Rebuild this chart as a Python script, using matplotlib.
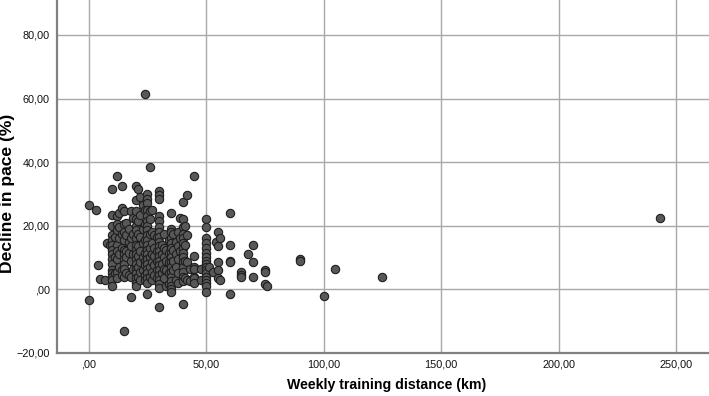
import matplotlib
matplotlib.use("Agg")
import matplotlib.pyplot as plt

plt.rcParams['font.family'] = ['Liberation Sans', 'DejaVu Sans']

# (distance km, list of decline % values), one column per distance
columns = [
    (0, [26.5, -3.5]),
    (3, [25.0]),
    (4, [7.5]),
    (5, [3.2]),
    (7, [2.8]),
    (8, [14.5]),
    (9, [14.0]),
    (10, [31.5, 23.5, 20.0, 17.0, 15.5, 14.0, 12.5, 11.0, 9.5, 8.0, 6.0, 5.0, 4.0, 3.0, 1.0]),
    (11, [16.5, 10.0, 5.0]),
    (12, [35.5, 23.0, 20.5, 18.5, 14.0, 12.0, 9.5, 5.5, 3.5]),
    (13, [24.0, 19.5, 16.0, 11.0, 7.0]),
    (14, [32.5, 25.5, 17.5, 13.0, 6.0, 4.5]),
    (15, [24.5, 20.5, 18.0, 15.5, 12.5, 11.0, 9.5, 8.0, 6.5, 4.0, -13.0]),
    (16, [21.0, 17.0, 12.0, 10.0, 5.0]),
    (17, [19.0, 15.0, 11.5, 4.5]),
    (18, [24.5, 16.0, 13.5, 9.0, 4.0, -2.5]),
    (19, [22.5, 17.5, 11.0, 6.5]),
    (20, [32.5, 28.0, 24.5, 22.0, 20.0, 18.5, 16.0, 14.0, 12.5, 11.0, 9.5, 8.0, 6.5, 5.0, 3.5, 2.0, 1.0]),
    (21, [31.5, 21.5, 17.5, 13.5, 10.5, 7.0, 4.0]),
    (22, [29.0, 23.5, 16.5, 12.0, 8.5, 5.5, 3.0]),
    (23, [26.5, 19.0, 14.5, 10.0, 6.0]),
    (24, [61.5, 25.0, 20.5, 15.5, 11.5, 9.0, 7.5, 4.5, 3.0]),
    (25, [30.0, 28.5, 27.0, 25.0, 23.0, 21.5, 20.0, 18.5, 17.0, 15.5, 14.0, 12.5, 11.0, 9.5, 8.0, 6.5, 5.0, 3.5, 2.0, -1.5]),
    (26, [38.5, 24.5, 22.0, 17.5, 13.0, 10.0, 7.0, 4.0]),
    (27, [25.0, 18.0, 14.5, 11.0, 8.5, 5.5, 3.0]),
    (28, [17.0, 13.0, 10.5, 7.5, 4.5]),
    (29, [16.5, 12.0, 9.0, 6.0, 3.5]),
    (30, [31.0, 29.5, 28.5, 23.0, 21.5, 19.5, 18.0, 16.5, 15.0, 13.5, 12.0, 10.5, 9.0, 7.5, 6.0, 4.5, 3.0, 1.5, 0.5, -5.5]),
    (31, [14.0, 11.0, 8.0, 5.0]),
    (32, [17.5, 13.0, 10.0, 6.5, 3.5]),
    (33, [12.5, 9.0, 6.0, 1.0]),
    (34, [15.5, 11.5, 8.5, 5.0, 1.5]),
    (35, [24.0, 19.0, 18.0, 16.0, 14.5, 13.0, 11.5, 10.0, 8.5, 7.0, 5.5, 4.0, 2.5, 1.0, 0.0, -1.0]),
    (36, [17.5, 12.5, 9.0, 6.0]),
    (37, [15.0, 11.0, 7.0, 3.0]),
    (38, [18.0, 13.5, 9.5, 5.0, 2.0]),
    (39, [22.5, 16.0, 12.0]),
    (40, [27.5, 22.0, 19.5, 17.5, 16.0, 14.5, 13.0, 11.5, 10.0, 8.5, 7.0, 5.5, 4.0, 2.5, -4.5]),
    (41, [20.0, 14.0, 9.0, 3.5]),
    (42, [29.5, 17.0, 8.5, 3.0]),
    (43, [6.5, 2.5]),
    (45, [35.5, 10.5, 7.0, 6.5, 4.0, 3.5, 2.0]),
    (48, [6.5, 3.0]),
    (50, [22.0, 19.5, 16.0, 14.5, 13.0, 11.5, 10.0, 9.0, 8.0, 7.0, 6.0, 5.0, 4.0, 3.0, 2.0, 1.0, -1.0]),
    (51, [7.0]),
    (53, [5.5]),
    (54, [15.0]),
    (55, [18.0, 13.5, 8.5, 6.0, 3.5]),
    (56, [16.0, 3.0]),
    (60, [24.0, 14.0, 9.0, 8.5, -1.5]),
    (65, [5.5, 4.5, 4.0]),
    (68, [11.0]),
    (70, [14.0, 8.5, 4.0]),
    (75, [6.0, 5.5, 1.5]),
    (76, [1.0]),
    (90, [9.5, 9.0]),
    (100, [-2.0]),
    (105, [6.5]),
    (125, [3.8]),
    (243, [22.5]),
]

distance = [d for d, ys in columns for _ in ys]
decline = [y for d, ys in columns for y in ys]

x_ticks = [0, 50, 100, 150, 200, 250]
x_ticklabels = [",00", "50,00", "100,00", "150,00", "200,00", "250,00"]
y_ticks = [-20, 0, 20, 40, 60, 80]
y_ticklabels = ["\u221220,00", ",00", "20,00", "40,00", "60,00", "80,00"]

fig = plt.figure(figsize=(7.09, 3.96), dpi=100)
ax = fig.add_axes([0.080, 0.109, 0.920, 0.891])
ax.set_xlim(-13.6, 264)
ax.set_ylim(-20, 91)

ax.grid(True, color='#a8a8a8', linewidth=1.0)
ax.set_axisbelow(True)
ax.scatter(distance, decline, s=36, facecolor='#585858', edgecolor='#1e1e1e',
           linewidth=0.8, zorder=3)

ax.set_xticks(x_ticks)
ax.set_xticklabels(x_ticklabels)
ax.set_yticks(y_ticks)
ax.set_yticklabels(y_ticklabels)
ax.tick_params(length=0, labelsize=7.8, colors='#111111', pad=5)

for s in ['top', 'right']:
    ax.spines[s].set_visible(False)
for s in ['left', 'bottom']:
    ax.spines[s].set_color('#808080')
    ax.spines[s].set_linewidth(1.6)

fig.text(387 / 709, 1 - 385 / 396, "Weekly training distance (km)", fontsize=10.2,
         fontweight='bold', ha='center', va='center')
fig.text(8 / 709, 1 - 193 / 396, "Decline in pace (%)", fontsize=12.6,
         fontweight='bold', ha='center', va='center', rotation=90)

fig.savefig("out.png", dpi=100)
